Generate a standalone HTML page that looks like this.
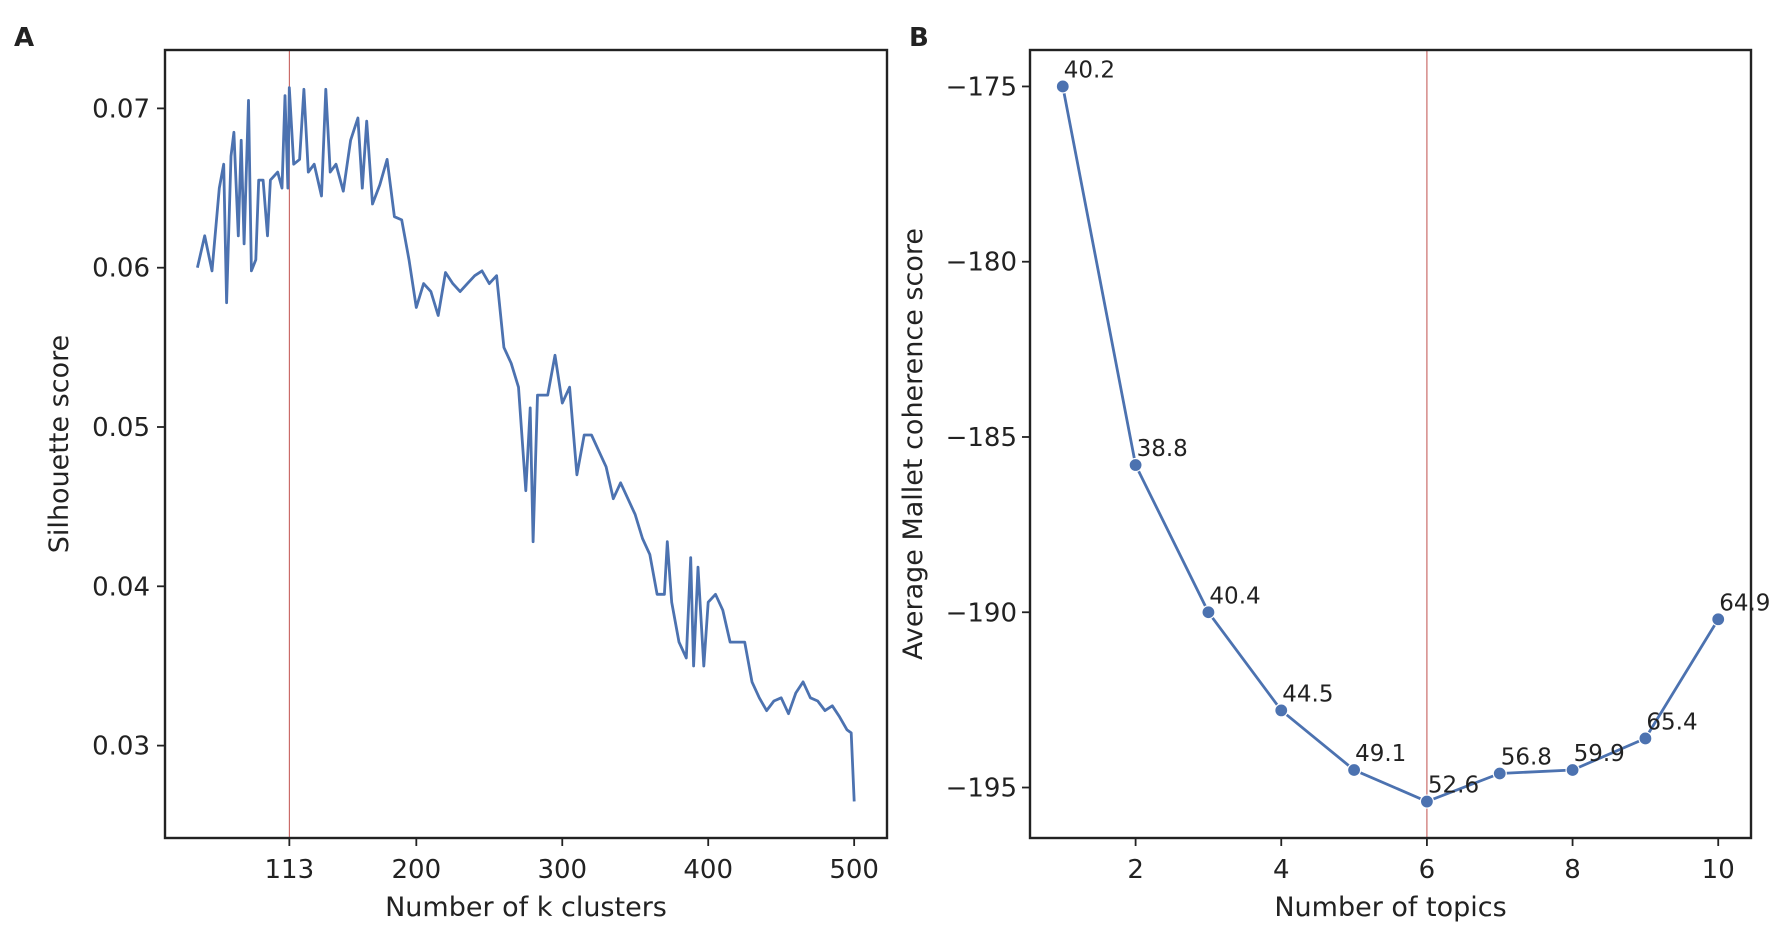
<!DOCTYPE html>
<html><head><meta charset="utf-8"><style>
html,body{margin:0;padding:0;background:#fff;}
svg text{font-family:"DejaVu Sans","Liberation Sans",sans-serif;fill:#222;}
</style></head><body>
<svg id="fig" width="1781" height="934" viewBox="0 0 1781 934" xmlns="http://www.w3.org/2000/svg">
<text x="14" y="46" font-size="26" font-weight="bold" font-family="Liberation Sans">A</text>
<text x="909" y="46" font-size="26" font-weight="bold" font-family="Liberation Sans">B</text>
<g id="pa"></g>
<g id="pb"></g>
</svg>
<script>
const kValues=[50,55,60,65,68,70,73,75,78,80,82,85,87,90,92,95,98,100,105,108,110,112,113,116,120,123,126,130,135,138,141,145,150,155,160,163,166,170,175,180,185,190,195,200,205,210,215,220,225,230,235,240,245,250,255,260,265,270,275,278,280,283,290,295,300,305,310,315,320,325,330,335,340,345,350,355,360,365,370,372,375,380,385,388,390,393,397,400,405,410,415,420,425,430,435,440,445,450,455,460,465,470,475,480,485,490,495,498,500];
const silScores=[0.060,0.062,0.0598,0.065,0.0665,0.0578,0.067,0.0685,0.062,0.068,0.0615,0.0705,0.0598,0.0605,0.0655,0.0655,0.062,0.0655,0.066,0.065,0.0708,0.065,0.0713,0.0665,0.0668,0.0712,0.066,0.0665,0.0645,0.0712,0.066,0.0665,0.0648,0.068,0.0694,0.065,0.0692,0.064,0.0652,0.0668,0.0632,0.063,0.0605,0.0575,0.059,0.0585,0.057,0.0597,0.059,0.0585,0.059,0.0595,0.0598,0.059,0.0595,0.055,0.054,0.0525,0.046,0.0512,0.0428,0.052,0.052,0.0545,0.0515,0.0525,0.047,0.0495,0.0495,0.0485,0.0475,0.0455,0.0465,0.0455,0.0445,0.043,0.042,0.0395,0.0395,0.0428,0.039,0.0365,0.0355,0.0418,0.035,0.0412,0.035,0.039,0.0395,0.0385,0.0365,0.0365,0.0365,0.034,0.033,0.0322,0.0328,0.033,0.032,0.0333,0.034,0.033,0.0328,0.0322,0.0325,0.0318,0.031,0.0308,0.0265];
const silYTicks=[0.03,0.04,0.05,0.06,0.07];
const silXTicks=[113,200,300,400,500];
const silBest=113;
const topics=[1,2,3,4,5,6,7,8,9,10];
const coherence=[-175,-185.8,-190,-192.8,-194.5,-195.4,-194.6,-194.5,-193.6,-190.2];
const annoLabels=["40.2","38.8","40.4","44.5","49.1","52.6","56.8","59.9","65.4","64.9"];
const cohYTicks=[-195,-190,-185,-180,-175];
const cohXTicks=[2,4,6,8,10];
const bestTopics=6;
const NS="http://www.w3.org/2000/svg";
function el(p,t,a){const e=document.createElementNS(NS,t);for(const k in a)e.setAttribute(k,a[k]);p.appendChild(e);return e;}
function panel(L,T,R,B,xmin,xmax,ymin,ymax){
  const sx=v=>L+(v-xmin)/(xmax-xmin)*(R-L);
  const sy=v=>B-(v-ymin)/(ymax-ymin)*(B-T);
  return {sx,sy};
}
// Panel A
(function(){
const g=document.getElementById('pa');
const L=165,T=50,R=887,B=838;
const {sx,sy}=panel(L,T,R,B,27.8,522.5,0.0242,0.073666);
silYTicks.forEach(v=>{
  const y=sy(v);
  const t=el(g,'line',{x1:L-8,x2:L,y1:y,y2:y,stroke:'#222','stroke-width':1.8});
  
  
  const tx=el(g,'text',{x:L-15,y:y+9,'font-size':26,'text-anchor':'end'});tx.textContent=v.toFixed(2);
  
  
});
silXTicks.forEach(v=>{
  const x=sx(v);
  const t=el(g,'line',{x1:x,x2:x,y1:B,y2:B+8,stroke:'#222','stroke-width':1.8});
  
  
  const tx=el(g,'text',{x:x,y:B+40,'font-size':26,'text-anchor':'middle'});tx.textContent=v;
  
  
});
const vl=el(g,'line',{x1:sx(silBest),x2:sx(silBest),y1:T,y2:B,stroke:'#c0504d','stroke-width':1});


const pts=kValues.map((k,i)=>sx(k).toFixed(1)+','+sy(silScores[i]).toFixed(1)).join(' ');
const pl=el(g,'polyline',{points:pts,fill:'none',stroke:'#4c72b0','stroke-width':2.8,'stroke-linejoin':'round'});


const fr=el(g,'rect',{x:L,y:T,width:R-L,height:B-T,fill:'none',stroke:'#222','stroke-width':2.4});


const xt=el(g,'text',{x:(L+R)/2,y:916,'font-size':27,'text-anchor':'middle'});xt.textContent='Number of k clusters';


const yt=el(g,'text',{x:0,y:0,'font-size':27,'text-anchor':'middle',transform:'translate(68,444) rotate(-90)'});yt.textContent='Silhouette score';


})();
// Panel B
(function(){
const g=document.getElementById('pb');
const L=1030,T=50,R=1751,B=838;
const {sx,sy}=panel(L,T,R,B,0.55,10.45,-196.44,-173.96);
cohYTicks.forEach(v=>{
  const y=sy(v);
  const t=el(g,'line',{x1:L-8,x2:L,y1:y,y2:y,stroke:'#222','stroke-width':1.8});
  
  
  const tx=el(g,'text',{x:L-13,y:y+9,'font-size':26,'text-anchor':'end'});tx.textContent='\u2212'+Math.abs(v);
  
  
});
cohXTicks.forEach(v=>{
  const x=sx(v);
  const t=el(g,'line',{x1:x,x2:x,y1:B,y2:B+8,stroke:'#222','stroke-width':1.8});
  
  
  const tx=el(g,'text',{x:x,y:B+40,'font-size':26,'text-anchor':'middle'});tx.textContent=v;
  
  
});
const vl=el(g,'line',{x1:sx(bestTopics),x2:sx(bestTopics),y1:T,y2:B,stroke:'#c0504d','stroke-width':1});


const pts=topics.map((k,i)=>sx(k).toFixed(1)+','+sy(coherence[i]).toFixed(1)).join(' ');
const pl=el(g,'polyline',{points:pts,fill:'none',stroke:'#4c72b0','stroke-width':2.8});


topics.forEach((k,i)=>{
  const c=el(g,'circle',{cx:sx(k),cy:sy(coherence[i]),r:6.5,fill:'#4c72b0',stroke:'#fff','stroke-width':1.2});
  
  
  const a=el(g,'text',{x:sx(k)+1,y:sy(coherence[i])-9,'font-size':23});a.textContent=annoLabels[i];
  
  
});
const fr=el(g,'rect',{x:L,y:T,width:R-L,height:B-T,fill:'none',stroke:'#222','stroke-width':2.4});


const xt=el(g,'text',{x:(L+R)/2,y:916,'font-size':27,'text-anchor':'middle'});xt.textContent='Number of topics';


const yt=el(g,'text',{x:0,y:0,'font-size':27,'text-anchor':'middle',transform:'translate(922,444) rotate(-90)'});yt.textContent='Average Mallet coherence score';


})();
</script>
</body></html>
